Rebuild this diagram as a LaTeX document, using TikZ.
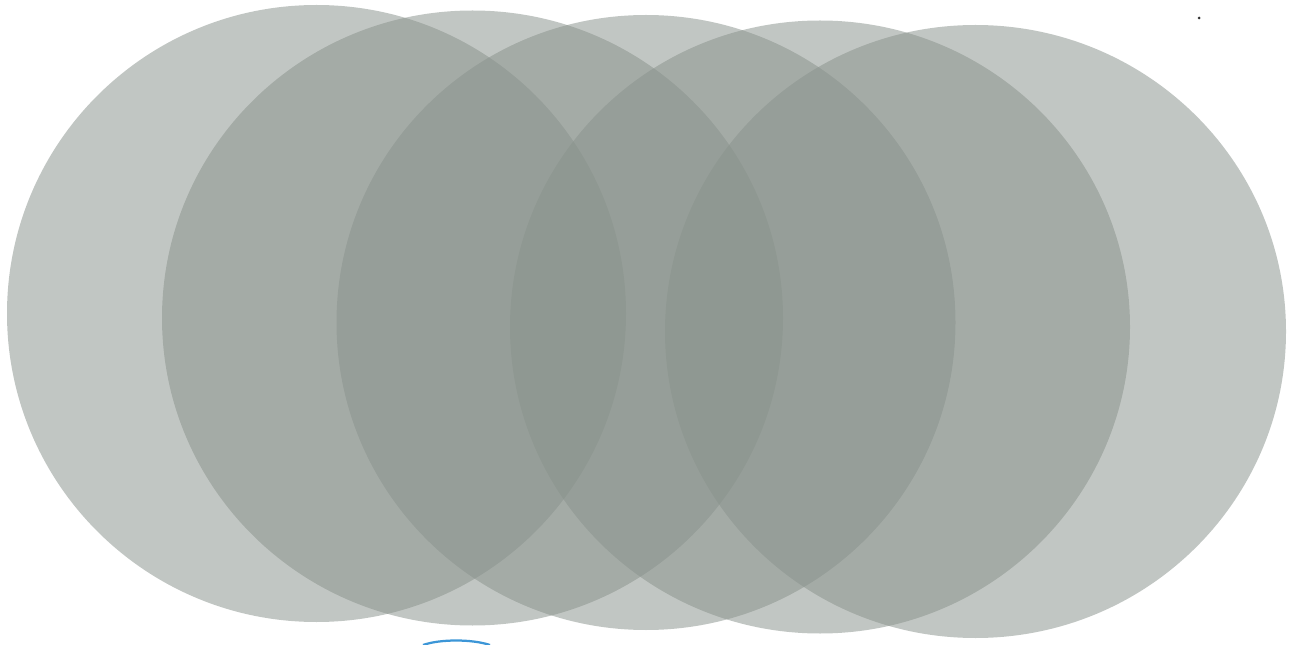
\documentclass[tikz,border=0pt]{standalone}
\begin{document}
\begin{tikzpicture}[x=0.02cm,y=-0.02cm,
  disc/.style={fill=discgray,fill opacity=0.52,draw=none}]
\definecolor{discgray}{RGB}{137,146,140}
\definecolor{arcblue}{RGB}{60,150,215}
\useasboundingbox (0,0) rectangle (1302,645);
\fill[disc] (316.5,313.5) ellipse [x radius=309.5,y radius=308.5];
\fill[disc] (472.5,318) ellipse [x radius=310.5,y radius=307.5];
\fill[disc] (646,322.5) ellipse [x radius=309.5,y radius=307.5];
\fill[disc] (820,327) ellipse [x radius=310,y radius=306.5];
\fill[disc] (975.5,331.5) ellipse [x radius=310.5,y radius=306.5];
\fill[black!80] (1199,18) circle [radius=1.5];
\draw[arcblue,line width=0.045cm] (423,645) .. controls (440,639) and (472,639) .. (490,645);
\end{tikzpicture}
\end{document}
